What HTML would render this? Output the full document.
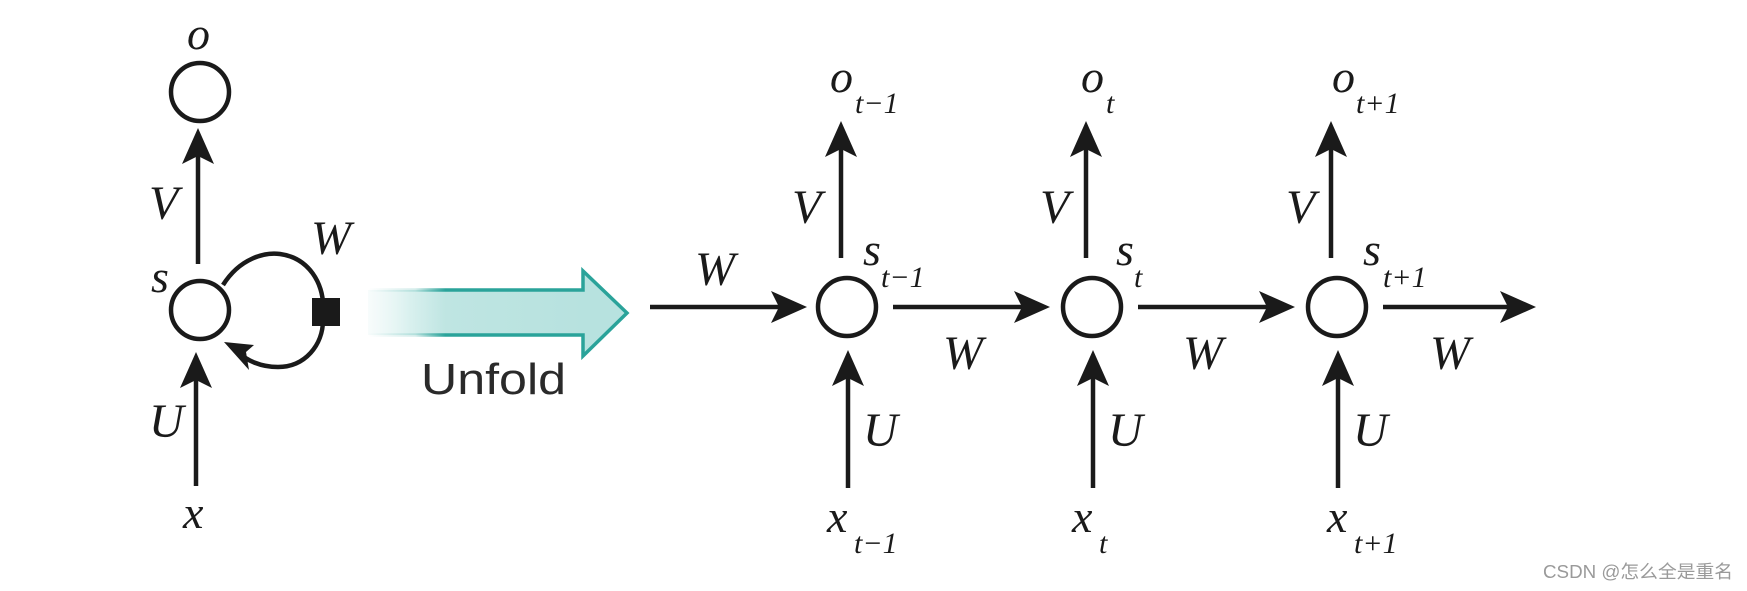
<!DOCTYPE html>
<html><head><meta charset="utf-8"><style>
html,body{margin:0;padding:0;background:#fff;}
svg{display:block;}
.m{font-family:"Liberation Serif",serif;font-style:italic;fill:#1a1a1a;}
</style></head><body>
<svg width="1747" height="591" viewBox="0 0 1747 591" xmlns="http://www.w3.org/2000/svg">
<defs>
<linearGradient id="g" x1="368" x2="583" y1="0" y2="0" gradientUnits="userSpaceOnUse">
<stop offset="0" stop-color="#e6f5f4" stop-opacity="0.3"/>
<stop offset="0.2" stop-color="#d8f0ee"/>
<stop offset="0.36" stop-color="#bfe5e2"/>
<stop offset="1" stop-color="#b7e2df"/>
</linearGradient>
<linearGradient id="gs" x1="368" x2="583" y1="0" y2="0" gradientUnits="userSpaceOnUse">
<stop offset="0" stop-color="#2aa39a" stop-opacity="0"/>
<stop offset="0.22" stop-color="#2aa39a" stop-opacity="0.2"/>
<stop offset="0.36" stop-color="#2aa39a"/>
<stop offset="1" stop-color="#2aa39a"/>
</linearGradient>
</defs>
<g stroke="#1a1a1a" stroke-width="4.5" fill="none">
<circle cx="200" cy="92" r="29"/>
<circle cx="200" cy="310" r="29"/>
<line x1="198" y1="264" x2="198" y2="150"/>
<line x1="196" y1="486" x2="196" y2="372"/>
<path d="M223 285 C240 258 265 252 280 254 C310 258 323 285 323 305 M323 320 C323 345 305 367 278 367 C260 367 246 360 238 352"/>
<circle cx="847" cy="307" r="29"/>
<circle cx="1092" cy="307" r="29"/>
<circle cx="1337" cy="307" r="29"/>
<line x1="841" y1="258" x2="841" y2="145"/>
<line x1="1086" y1="258" x2="1086" y2="145"/>
<line x1="1331" y1="258" x2="1331" y2="145"/>
<line x1="848" y1="488" x2="848" y2="372"/>
<line x1="1093" y1="488" x2="1093" y2="372"/>
<line x1="1338" y1="488" x2="1338" y2="372"/>
<line x1="650" y1="307" x2="785" y2="307"/>
<line x1="893" y1="307" x2="1028" y2="307"/>
<line x1="1138" y1="307" x2="1273" y2="307"/>
<line x1="1383" y1="307" x2="1514" y2="307"/>
</g>
<g fill="#1a1a1a">
<rect x="312" y="298" width="28" height="28"/>
<path d="M224 342 L254 345 L246 352 L249 370 Z"/>
<path d="M198 128 L214 164 L198 156 L182 164 Z"/>
<path d="M196 352 L212 388 L196 380 L180 388 Z"/>
<path d="M841 121 L857 157 L841 149 L825 157 Z"/>
<path d="M1086 121 L1102 157 L1086 149 L1070 157 Z"/>
<path d="M1331 121 L1347 157 L1331 149 L1315 157 Z"/>
<path d="M848 350 L864 386 L848 378 L832 386 Z"/>
<path d="M1093 350 L1109 386 L1093 378 L1077 386 Z"/>
<path d="M1338 350 L1354 386 L1338 378 L1322 386 Z"/>
<path d="M807 307 L771 323 L779 307 L771 291 Z"/>
<path d="M1050 307 L1014 323 L1022 307 L1014 291 Z"/>
<path d="M1295 307 L1259 323 L1267 307 L1259 291 Z"/>
<path d="M1536 307 L1500 323 L1508 307 L1500 291 Z"/>
</g>
<path d="M368 290 L583 290 L583 271 L627 313 L583 356 L583 335 L368 335 Z" fill="url(#g)"/>
<path d="M368 290 L583 290 L583 271 L627 313 L583 356 L583 335 L368 335" fill="none" stroke="url(#gs)" stroke-width="3.5"/>
<text x="421" y="394" font-family="Liberation Sans, sans-serif" font-size="44" fill="#2a2a2a" textLength="145" lengthAdjust="spacingAndGlyphs">Unfold</text>
<text class="m" x="187" y="49" font-size="46">o</text>
<text class="m" x="149" y="219" font-size="48">V</text>
<text class="m" x="311" y="254" font-size="48">W</text>
<text class="m" x="151" y="292" font-size="46">s</text>
<text class="m" x="149" y="437" font-size="48">U</text>
<text class="m" x="183" y="528" font-size="46">x</text>
<text class="m" x="695" y="285" font-size="48">W</text>
<text class="m" x="943" y="369" font-size="48">W</text>
<text class="m" x="1183" y="369" font-size="48">W</text>
<text class="m" x="1430" y="369" font-size="48">W</text>
<text class="m" x="830" y="92" font-size="46">o</text><text class="m" x="855" y="113" font-size="30">t−1</text>
<text class="m" x="1081" y="92" font-size="46">o</text><text class="m" x="1106" y="113" font-size="30">t</text>
<text class="m" x="1332" y="92" font-size="46">o</text><text class="m" x="1356" y="113" font-size="30">t+1</text>
<text class="m" x="792" y="223" font-size="48">V</text>
<text class="m" x="1040" y="223" font-size="48">V</text>
<text class="m" x="1286" y="223" font-size="48">V</text>
<text class="m" x="863" y="265" font-size="46">s</text><text class="m" x="881" y="287" font-size="30">t−1</text>
<text class="m" x="1116" y="265" font-size="46">s</text><text class="m" x="1134" y="287" font-size="30">t</text>
<text class="m" x="1363" y="265" font-size="46">s</text><text class="m" x="1383" y="287" font-size="30">t+1</text>
<text class="m" x="863" y="446" font-size="48">U</text>
<text class="m" x="1108" y="446" font-size="48">U</text>
<text class="m" x="1353" y="446" font-size="48">U</text>
<text class="m" x="827" y="532" font-size="46">x</text><text class="m" x="854" y="553" font-size="30">t−1</text>
<text class="m" x="1072" y="532" font-size="46">x</text><text class="m" x="1099" y="553" font-size="30">t</text>
<text class="m" x="1327" y="532" font-size="46">x</text><text class="m" x="1354" y="553" font-size="30">t+1</text>
<text x="1543" y="578" font-family="Liberation Sans, 'Noto Sans CJK SC', sans-serif" font-size="18" fill="#9a9a9a" textLength="190" lengthAdjust="spacingAndGlyphs">CSDN @怎么全是重名</text>
</svg>
</body></html>
